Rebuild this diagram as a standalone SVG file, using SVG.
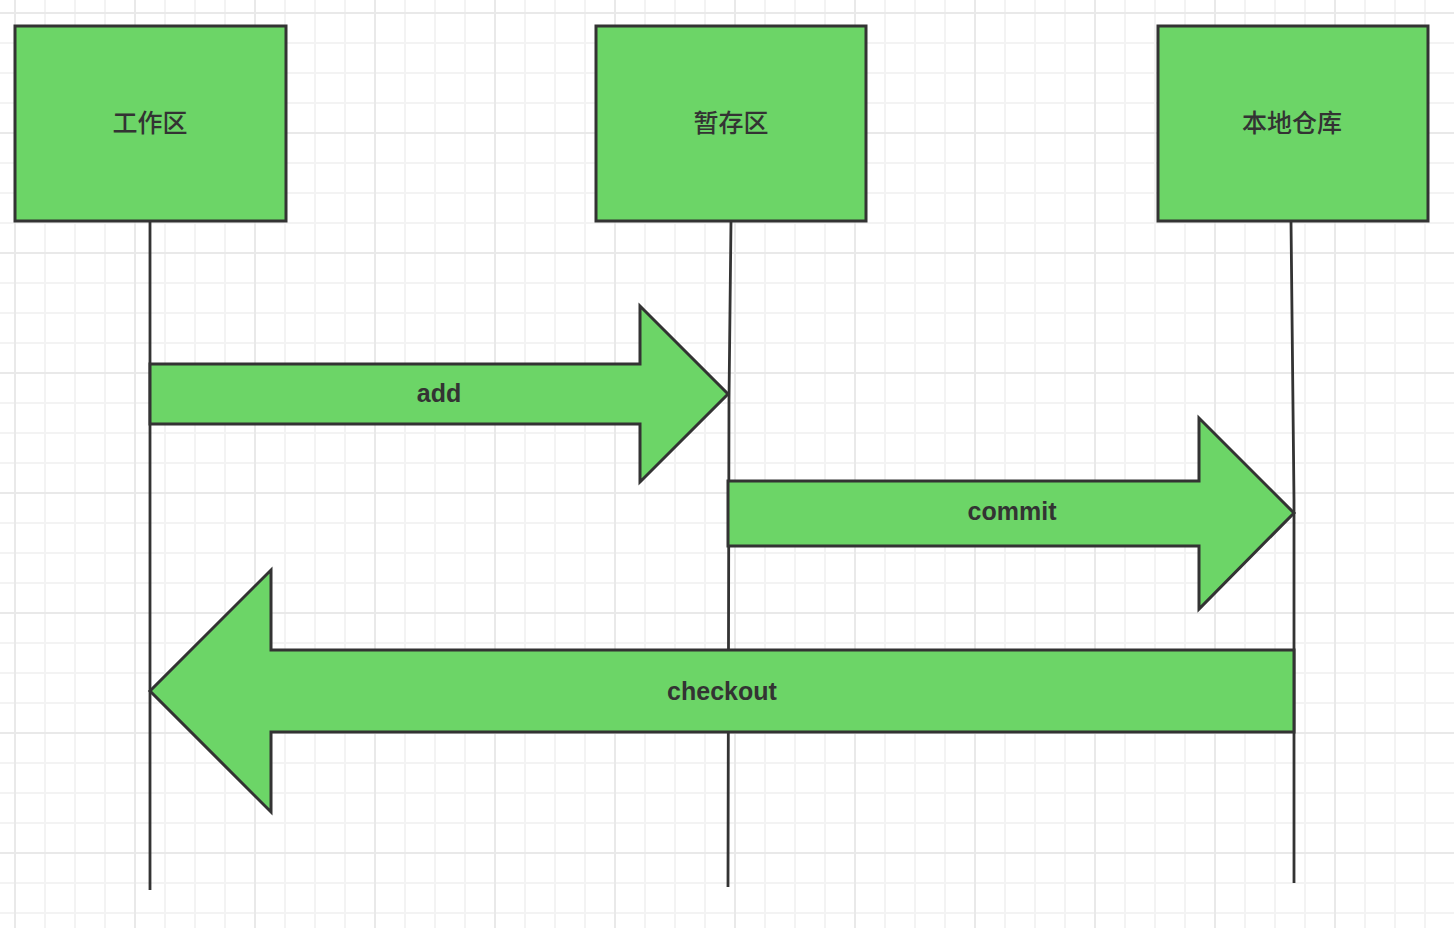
<svg xmlns="http://www.w3.org/2000/svg" width="1454" height="928" viewBox="0 0 1454 928">
  <defs>
    <pattern id="grid" patternUnits="userSpaceOnUse" x="0" y="0" width="120" height="120">
      <g stroke="#f3f3f3" stroke-width="2">
        <line x1="45" y1="0" x2="45" y2="120"/>
        <line x1="75" y1="0" x2="75" y2="120"/>
        <line x1="105" y1="0" x2="105" y2="120"/>
        <line x1="0" y1="43" x2="120" y2="43"/>
        <line x1="0" y1="73" x2="120" y2="73"/>
        <line x1="0" y1="103" x2="120" y2="103"/>
      </g>
      <g stroke="#e9e9e9" stroke-width="2">
        <line x1="15" y1="0" x2="15" y2="120"/>
        <line x1="0" y1="13" x2="120" y2="13"/>
      </g>
    </pattern>
    <style>
      .box { fill: #6cd567; stroke: #333333; stroke-width: 3; }
      .arrow { fill: #6cd567; stroke: #333333; stroke-width: 3; stroke-linejoin: miter; }
      .life { stroke: #333333; stroke-width: 2.8; fill: none; }
      .cjk { font-family: "Noto Sans CJK SC", "Noto Sans", sans-serif; font-size: 25px; font-weight: 500; fill: #333333; text-anchor: middle; dominant-baseline: central; }
      .lbl { font-family: "Liberation Sans", Arial, sans-serif; font-size: 25px; font-weight: bold; fill: #333333; text-anchor: middle; dominant-baseline: central; }
    </style>
  </defs>
  <rect x="0" y="0" width="1454" height="928" fill="#ffffff"/>
  <rect x="0" y="0" width="1454" height="928" fill="url(#grid)"/>

  <g id="lifelines">
    <line class="life" x1="150" y1="221" x2="150" y2="890"/>
    <polyline class="life" points="731,221 729,400 728,887"/>
    <polyline class="life" points="1291,221 1294,500 1294,883"/>
  </g>

  <g id="node-workspace">
    <rect class="box" x="15" y="26" width="271" height="195"/>
    <text class="cjk" x="150" y="121">工作区</text>
  </g>
  <g id="node-staging">
    <rect class="box" x="596" y="26" width="270" height="195"/>
    <text class="cjk" x="731" y="121">暂存区</text>
  </g>
  <g id="node-repo">
    <rect class="box" x="1158" y="26" width="270" height="195"/>
    <text class="cjk" x="1292" y="121">本地仓库</text>
  </g>

  <g id="connectors">
    <g id="arrow-add">
      <polygon class="arrow" points="150,364 640,364 640,306 728,394 640,482 640,424 150,424"/>
      <text class="lbl" x="439" y="393">add</text>
    </g>
    <g id="arrow-commit">
      <polygon class="arrow" points="728,481 1199,481 1199,418 1294,513 1199,609 1199,546 728,546"/>
      <text class="lbl" x="1012" y="511">commit</text>
    </g>
    <g id="arrow-checkout">
      <polygon class="arrow" points="1294,650 271,650 271,570 150,691 271,812 271,732 1294,732"/>
      <text class="lbl" x="722" y="691">checkout</text>
    </g>
  </g>
</svg>
